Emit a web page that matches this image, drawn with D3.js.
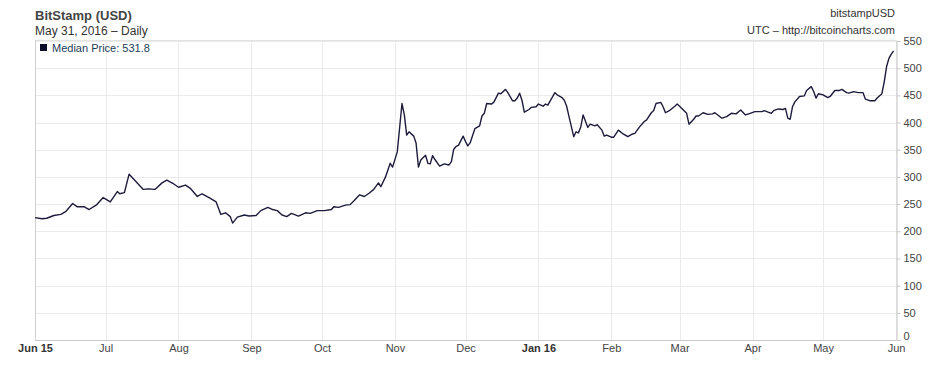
<!DOCTYPE html>
<html><head><meta charset="utf-8">
<script src="https://cdn.jsdelivr.net/npm/d3@7"></script>
<style>
body{margin:0;background:#fff;}
svg{display:block;font-family:"Liberation Sans",Arial,sans-serif;}
</style></head>
<body><svg id="c" width="939" height="365"></svg>
<script>
const title = "BitStamp (USD)";
const subtitle = "May 31, 2016 \u2013 Daily";
const symbolName = "bitstampUSD";
const sourceText = "UTC \u2013 http://bitcoincharts.com";
const seriesName = "Median Price";
const lastValue = "531.8";
const yTicks = [0,50,100,150,200,250,300,350,400,450,500,550];
const xTickDates = ["2015-06-01","2015-07-01","2015-08-01","2015-09-01","2015-10-01","2015-11-01","2015-12-01","2016-01-01","2016-02-01","2016-03-01","2016-04-01","2016-05-01","2016-06-01"];
const xTickLabels = ["Jun 15","Jul","Aug","Sep","Oct","Nov","Dec","Jan 16","Feb","Mar","Apr","May","Jun"];
const boldTicks = ["Jun 15","Jan 16"];

const dates = [
"2015-06-01","2015-06-04","2015-06-06","2015-06-09","2015-06-12","2015-06-14","2015-06-17","2015-06-19","2015-06-22","2015-06-24","2015-06-27","2015-06-30",
"2015-07-03","2015-07-06","2015-07-07","2015-07-09","2015-07-11","2015-07-14","2015-07-17","2015-07-19","2015-07-22","2015-07-25","2015-07-27","2015-07-30",
"2015-08-01","2015-08-04","2015-08-06","2015-08-09","2015-08-11","2015-08-14","2015-08-17","2015-08-19","2015-08-21","2015-08-23","2015-08-24","2015-08-26","2015-08-29","2015-08-31",
"2015-09-03","2015-09-05","2015-09-08","2015-09-10","2015-09-12","2015-09-14","2015-09-16","2015-09-18","2015-09-21","2015-09-24","2015-09-26","2015-09-29",
"2015-10-02","2015-10-05","2015-10-06","2015-10-08","2015-10-11","2015-10-13","2015-10-15","2015-10-17","2015-10-19","2015-10-21","2015-10-23","2015-10-25","2015-10-26","2015-10-28","2015-10-30","2015-10-31",
"2015-11-02","2015-11-04","2015-11-05","2015-11-06","2015-11-07","2015-11-09","2015-11-10","2015-11-11","2015-11-12","2015-11-14","2015-11-15","2015-11-16","2015-11-17","2015-11-18","2015-11-20","2015-11-22","2015-11-24","2015-11-25","2015-11-26","2015-11-27","2015-11-28","2015-11-30",
"2015-12-01","2015-12-02","2015-12-03","2015-12-05","2015-12-07","2015-12-08","2015-12-09","2015-12-10","2015-12-12","2015-12-13","2015-12-15","2015-12-16","2015-12-18","2015-12-19","2015-12-21","2015-12-22","2015-12-23","2015-12-24","2015-12-25","2015-12-26","2015-12-28","2015-12-29","2015-12-31",
"2016-01-01","2016-01-03","2016-01-04","2016-01-05","2016-01-08","2016-01-09","2016-01-11","2016-01-12","2016-01-13","2016-01-14","2016-01-16","2016-01-17","2016-01-18","2016-01-19","2016-01-20","2016-01-22","2016-01-23","2016-01-25","2016-01-26","2016-01-28","2016-01-29","2016-01-30",
"2016-02-01","2016-02-02","2016-02-04","2016-02-06","2016-02-08","2016-02-10","2016-02-11","2016-02-13","2016-02-15","2016-02-16","2016-02-18","2016-02-19","2016-02-20","2016-02-22","2016-02-23","2016-02-24","2016-02-26","2016-02-28","2016-02-29",
"2016-03-01","2016-03-04","2016-03-05","2016-03-07","2016-03-08","2016-03-09","2016-03-11","2016-03-13","2016-03-15","2016-03-16","2016-03-19","2016-03-21","2016-03-23","2016-03-25","2016-03-27","2016-03-29","2016-03-31",
"2016-04-02","2016-04-05","2016-04-06","2016-04-09","2016-04-10","2016-04-12","2016-04-14","2016-04-15","2016-04-16","2016-04-17","2016-04-18","2016-04-19","2016-04-21","2016-04-23","2016-04-24","2016-04-26","2016-04-27","2016-04-28","2016-04-29",
"2016-05-01","2016-05-03","2016-05-04","2016-05-06","2016-05-08","2016-05-09","2016-05-11","2016-05-12","2016-05-14","2016-05-16","2016-05-18","2016-05-19","2016-05-21","2016-05-23","2016-05-24","2016-05-26","2016-05-27","2016-05-28","2016-05-29","2016-05-30","2016-05-31"
];
const prices = [
225,223,224,229,231,236,251,245,245,240,248,262,
254,273,269,271,305,291,277,278,277,289,294,287,
281,285,279,264,269,262,254,231,234,227,215,226,230,228,
229,238,244,240,238,230,227,233,228,234,233,238,
238,240,245,244,248,249,258,267,264,270,277,289,282,300,325,318,
346,435,414,377,383,375,362,318,331,340,325,324,339,332,320,324,322,328,351,356,358,375,
365,357,363,389,394,412,417,435,434,437,454,453,461,455,440,440,445,454,441,419,424,428,429,
434,430,434,432,455,451,446,441,430,411,374,383,381,392,414,391,397,394,396,386,375,377,
373,373,386,379,374,379,380,392,402,405,418,422,435,437,429,418,423,430,434,
430,417,397,406,412,412,418,415,416,418,408,411,417,416,423,414,417,
420,420,422,417,422,425,424,426,408,406,429,438,448,449,459,466,457,445,453,
451,446,448,459,459,461,455,454,457,455,455,443,440,440,445,453,475,503,518,526,531.8
];

const svg = d3.select("#c");
const m = {left:35, right:896, top:40, bottom:340};
const parse = d3.utcParse("%Y-%m-%d");
const data = dates.map((d,i)=>({date:parse(d), value:prices[i]}));

const x = d3.scaleUtc().domain([parse("2015-06-01"), parse("2016-06-01")]).range([m.left, m.right]);
const y = d3.scaleLinear().domain([0,550]).range([m.bottom, m.top+1]);

const grid = svg.append("g");
grid.selectAll("line.h").data(yTicks).join("line")
  .attr("x1", m.left).attr("x2", m.right)
  .attr("y1", d=>Math.round(y(d))+0.5).attr("y2", d=>Math.round(y(d))+0.5)
  .attr("stroke", "#ebebeb").attr("stroke-width",1);
grid.selectAll("line.v").data(xTickDates).join("line")
  .attr("x1", d=>Math.round(x(parse(d)))+0.5).attr("x2", d=>Math.round(x(parse(d)))+0.5)
  .attr("y1", m.top).attr("y2", m.bottom)
  .attr("stroke", "#ebebeb").attr("stroke-width",1);
svg.append("line").attr("x1",m.left).attr("x2",m.right).attr("y1",m.top+0.5).attr("y2",m.top+0.5).attr("stroke","#e2e2e2");
svg.append("line").attr("x1",m.left+0.5).attr("x2",m.left+0.5).attr("y1",m.top).attr("y2",m.bottom).attr("stroke","#d0d0d0");
svg.append("line").attr("x1",m.left).attr("x2",m.right).attr("y1",m.bottom+0.5).attr("y2",m.bottom+0.5).attr("stroke","#c8c8c8");

const yAxis = d3.axisRight(y).tickValues(yTicks).tickSize(4).tickPadding(3);
const ya = svg.append("g").attr("transform",`translate(${m.right+0.5},0)`).call(yAxis);
ya.select(".domain").attr("stroke","#c8c8c8");
ya.selectAll(".tick line").attr("stroke","#c8c8c8");
ya.selectAll(".tick text").attr("fill","#444").attr("font-size",11).attr("font-family","Liberation Sans, Arial, sans-serif")
  .attr("dy", d => d === 0 ? "-0.05em" : "0.32em");

const xAxis = d3.axisBottom(x).tickValues(xTickDates.map(parse)).tickSize(0).tickPadding(4)
  .tickFormat((d,i)=>xTickLabels[i]);
const xa = svg.append("g").attr("transform",`translate(0,${m.bottom})`).call(xAxis);
xa.select(".domain").remove();
xa.selectAll(".tick text").attr("fill",(d,i)=>boldTicks.includes(xTickLabels[i])?"#333":"#444")
  .attr("font-weight",(d,i)=>boldTicks.includes(xTickLabels[i])?"bold":"normal")
  .attr("font-size",11).attr("font-family","Liberation Sans, Arial, sans-serif");

const line = d3.line().x(d=>x(d.date)).y(d=>y(d.value));
svg.append("path").datum(data).attr("d",line).attr("fill","none")
  .attr("stroke","#1c1c3c").attr("stroke-width",1.4).attr("stroke-linejoin","round");

svg.append("text").attr("x",35).attr("y",20).text(title)
  .attr("font-size",13).attr("font-weight","bold").attr("fill","#444");
svg.append("text").attr("x",35).attr("y",35).text(subtitle)
  .attr("font-size",12).attr("fill","#333");
svg.append("text").attr("x",895).attr("y",17).attr("text-anchor","end").text(symbolName)
  .attr("font-size",11).attr("fill","#333");
svg.append("text").attr("x",895).attr("y",34).attr("text-anchor","end").text(sourceText)
  .attr("font-size",11).attr("fill","#333");
svg.append("rect").attr("x",40).attr("y",44).attr("width",7).attr("height",7).attr("fill","#0c0c2c");
svg.append("text").attr("x",52).attr("y",51.5).text(`${seriesName}: ${lastValue}`)
  .attr("font-size",11).attr("fill","#1d3c5a");
</script></body></html>
